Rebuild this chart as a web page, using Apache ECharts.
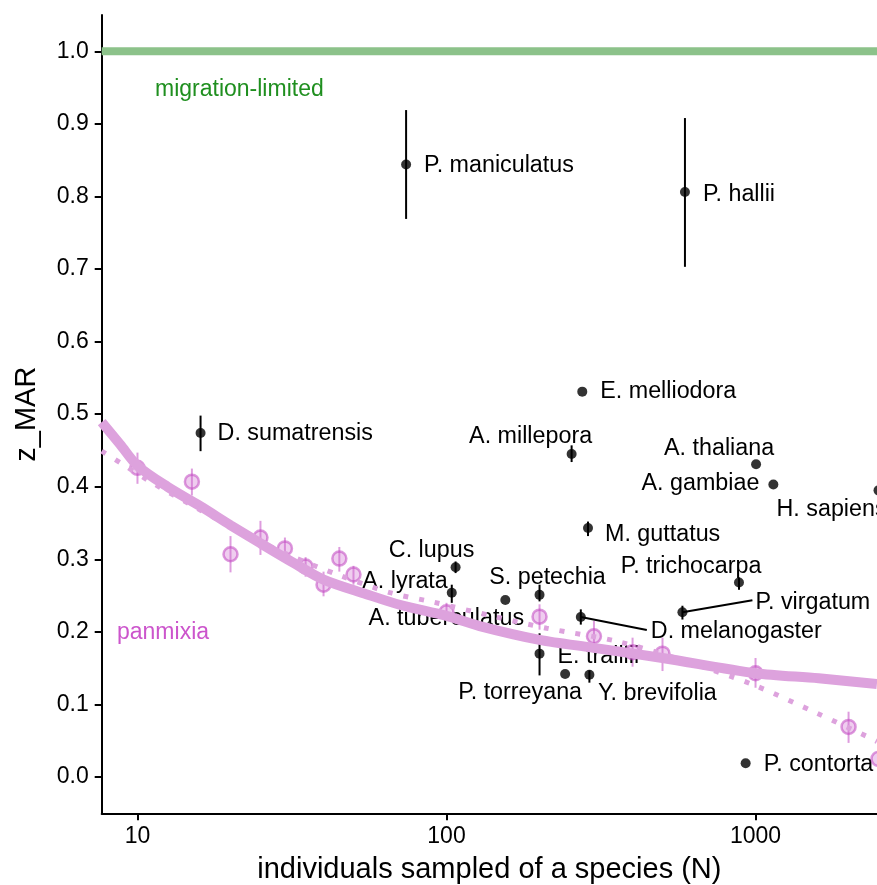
<!DOCTYPE html>
<html>
<head>
<meta charset="utf-8">
<script src="https://cdn.jsdelivr.net/npm/echarts@6/dist/echarts.min.js"></script>
<style>
html,body{margin:0;padding:0;background:#fff;}
#chart{width:877px;height:885px;}
</style>
</head>
<body>
<div id="chart"></div>
<script>
// empirical estimates per species
var species  = ['P. maniculatus','P. hallii','D. sumatrensis','E. melliodora','A. millepora','A. thaliana','A. gambiae','H. sapiens','M. guttatus','C. lupus','A. lyrata','A. tuberculatus','S. petechia','E. traillii','P. torreyana','Y. brevifolia','D. melanogaster','P. virgatum','P. trichocarpa','P. contorta'];
var speciesN = [74, 591, 16, 275, 254, 1004, 1142, 2500, 287, 107, 104, 155, 200, 200, 242, 290, 272, 580, 884, 929];
var speciesZ = [0.844, 0.806, 0.474, 0.531, 0.445, 0.431, 0.403, 0.395, 0.343, 0.289, 0.254, 0.244, 0.251, 0.170, 0.142, 0.141, 0.2205, 0.227, 0.268, 0.019];
var speciesLo = [0.769, 0.703, 0.449, null, 0.434, null, null, null, 0.332, 0.281, 0.240, null, 0.242, 0.140, null, 0.130, 0.210, 0.217, 0.258, null];
var speciesHi = [0.919, 0.908, 0.498, null, 0.457, null, null, null, 0.352, 0.297, 0.265, null, 0.265, 0.198, null, 0.147, 0.231, 0.236, 0.275, null];

// panmixia simulations
var simN  = [10, 15, 20, 25, 30, 35, 40, 45, 50, 100, 200, 300, 400, 500, 1000, 2000, 2500];
var simZ  = [0.426, 0.407, 0.307, 0.330, 0.315, 0.290, 0.265, 0.301, 0.279, 0.227, 0.221, 0.194, 0.172, 0.170, 0.143, 0.069, 0.025];
var simLo = [0.404, 0.388, 0.282, 0.306, 0.300, 0.276, 0.249, 0.283, 0.265, 0.215, 0.203, 0.171, 0.152, 0.146, 0.123, 0.047, 0.005];
var simHi = [0.447, 0.425, 0.332, 0.353, 0.330, 0.303, 0.283, 0.317, 0.291, 0.240, 0.238, 0.215, 0.192, 0.192, 0.164, 0.090, 0.045];

// fitted panmixia curve (solid) and trend (dotted)
var fitN = [7.66, 8.8, 10, 12.5, 16, 20, 25, 32, 40, 55, 71, 100, 128, 200, 300, 500, 1000, 1600, 2470];
var fitZ = [0.489, 0.458, 0.429, 0.400, 0.373, 0.347, 0.322, 0.295, 0.272, 0.252, 0.237, 0.222, 0.208, 0.189, 0.178, 0.164, 0.143, 0.136, 0.128];
var trendN = [7.66, 8.8, 11, 15.5, 22, 31.2, 45, 65.6, 90.6, 140, 211, 356, 599, 984, 1578, 2291, 2470];
var trendZ = [0.449, 0.433, 0.407, 0.371, 0.336, 0.305, 0.278, 0.254, 0.241, 0.222, 0.205, 0.187, 0.159, 0.127, 0.088, 0.056, 0.049];

var xTicks = [10, 100, 1000];
var yTicks = [0, 0.1, 0.2, 0.3, 0.4, 0.5, 0.6, 0.7, 0.8, 0.9, 1.0];
var migrationZ = 1.0;

var xMin = Math.log10(7.66), xMax = Math.log10(2472);
var FONT = '"Liberation Sans", Arial, Helvetica, sans-serif';
var PINK = '#dda2dd';

// label placement in pixels from the point: dx, dy, align, leader end
var labelPlace = {
	'P. maniculatus':[18,1,'left'],
	'P. hallii':[18,2,'left'],
	'D. sumatrensis':[17,1,'left'],
	'E. melliodora':[18,0,'left'],
	'A. millepora':[-41,-17,'center'],
	'A. thaliana':[-37,-16,'center'],
	'A. gambiae':[-14,-1,'right'],
	'H. sapiens':[-102,19,'left'],
	'M. guttatus':[17,6,'left'],
	'C. lupus':[-24,-17,'center'],
	'A. lyrata':[-4,-11,'right'],
	'A. tuberculatus':[-59,19,'center'],
	'S. petechia':[8,-17,'center'],
	'E. traillii':[18,3,'left'],
	'P. torreyana':[-45,19,'center'],
	'Y. brevifolia':[68,19,'center'],
	'D. melanogaster':[70,15,'left',[66,13]],
	'P. virgatum':[73,-10,'left',[70,-12]],
	'P. trichocarpa':[-48,-16,'center'],
	'P. contorta':[18,1,'left']
};

function lg(v){ return Math.log10(v); }

var speciesPts = speciesN.map(function(n,i){ return [lg(n), speciesZ[i]]; });
var speciesBars = [];
speciesN.forEach(function(n,i){
	if(speciesLo[i]!=null) speciesBars.push([lg(n), speciesLo[i], speciesHi[i]]);
});
var simPts = simN.map(function(n,i){ return [lg(n), simZ[i]]; });
var simBars = simN.map(function(n,i){ return [lg(n), simLo[i], simHi[i]]; });
var fitPts = fitN.map(function(n,i){ return [lg(n), fitZ[i]]; });
var trendPts = trendN.map(function(n,i){ return [lg(n), trendZ[i]]; });

function barRender(color, width){
	return function(params, api){
		var a = api.coord([api.value(0), api.value(1)]);
		var b = api.coord([api.value(0), api.value(2)]);
		return {type:'line', shape:{x1:a[0],y1:a[1],x2:b[0],y2:b[1]}, style:{stroke:color, lineWidth:width}};
	};
}

var chart = echarts.init(document.getElementById('chart'));
var option = {
	animation:false,
	backgroundColor:'#fff',
	grid:{left:101.7, top:15, right:0, bottom:71.7, outerBoundsMode:'none'},
	xAxis:{
		type:'value', min:xMin, max:xMax,
		axisLine:{show:true, onZero:false, lineStyle:{color:'#000', width:2}},
		axisTick:{show:true, length:7, lineStyle:{color:'#000', width:2}, customValues:xTicks.map(lg)},
		axisLabel:{customValues:xTicks.map(lg), margin:12, fontSize:23, color:'#000', fontFamily:FONT,
			formatter:function(v){ return String(Math.round(Math.pow(10,v))); }},
		splitLine:{show:false},
		name:'individuals sampled of a species (N)', nameLocation:'middle', nameGap:42,
		nameTextStyle:{fontSize:29, color:'#000', fontFamily:FONT}
	},
	yAxis:{
		type:'value', min:-0.05, max:1.05,
		axisLine:{show:true, onZero:false, lineStyle:{color:'#000', width:2}},
		axisTick:{show:true, length:7, lineStyle:{color:'#000', width:2}, customValues:yTicks},
		axisLabel:{customValues:yTicks, margin:13, fontSize:23, color:'#000', fontFamily:FONT,
			formatter:function(v){ return v.toFixed(1); }},
		splitLine:{show:false},
		name:'z_MAR', nameLocation:'middle', nameGap:60,
		nameTextStyle:{fontSize:29, color:'#000', fontFamily:FONT}
	},
	graphic:[
		{type:'text', left:155, top:78, style:{text:'migration-limited', fontSize:23, fontFamily:FONT, fill:'#1f8f1f'}},
		{type:'text', left:117, top:621, style:{text:'panmixia', fontSize:23, fontFamily:FONT, fill:'#cc55cc'}}
	],
	series:[
		{type:'line', data:[[xMin,migrationZ],[xMax,migrationZ]], symbol:'none', silent:true,
			lineStyle:{color:'#8cc28a', width:8}},
		{type:'line', data:fitPts, symbol:'none', smooth:0.3, silent:true,
			lineStyle:{color:PINK, width:10}},
		{type:'line', data:trendPts, symbol:'none', smooth:0.3, silent:true,
			lineStyle:{color:PINK, width:5, type:[5,11], cap:'butt'}},
		{type:'custom', data:simBars, renderItem:barRender('rgba(200,90,200,0.6)', 2), silent:true},
		{type:'scatter', data:simPts, symbolSize:14, clip:false, silent:true,
			itemStyle:{color:'rgba(205,100,205,0.4)', borderColor:'rgba(195,75,195,0.7)', borderWidth:2.5}},
		{type:'custom', data:speciesBars, renderItem:barRender('#000', 2), silent:true},
		{type:'scatter', data:speciesPts, symbolSize:10, clip:false, silent:true, itemStyle:{color:'#000'}},
		{type:'custom', data:speciesPts, silent:true, renderItem:function(params, api){
			var name = species[params.dataIndex];
			var p = api.coord([api.value(0), api.value(1)]);
			var pl = labelPlace[name];
			var kids = [{type:'text', style:{text:name, x:p[0]+pl[0], y:p[1]+pl[1], align:pl[2], verticalAlign:'middle',
				fontSize:23.3, fontFamily:FONT, fill:'#000'}}];
			if(pl[3]){
				kids.push({type:'line', shape:{x1:p[0],y1:p[1],x2:p[0]+pl[3][0],y2:p[1]+pl[3][1]}, style:{stroke:'#000', lineWidth:2}});
			}
			return {type:'group', children:kids};
		}}
	]
};
chart.setOption(option);
</script>
</body>
</html>
